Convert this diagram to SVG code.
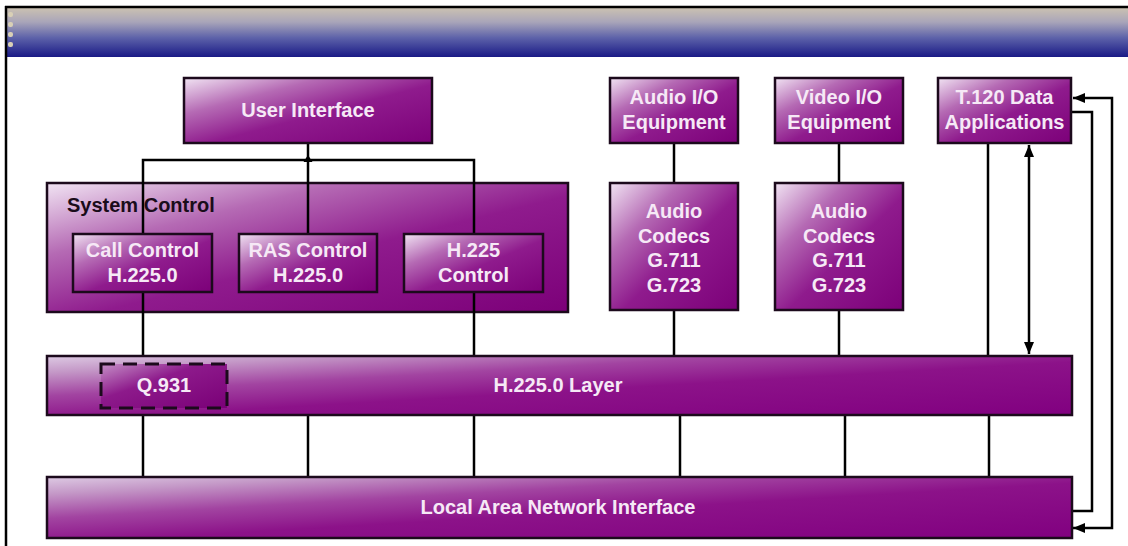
<svg xmlns="http://www.w3.org/2000/svg" width="1128" height="546" viewBox="0 0 1128 546">
  <defs>
    <linearGradient id="header" x1="0" y1="0" x2="0" y2="1">
      <stop offset="0" stop-color="#cdc3b1"/>
      <stop offset="0.3" stop-color="#a9a5b9"/>
      <stop offset="0.62" stop-color="#5c61a9"/>
      <stop offset="1" stop-color="#1a1a86"/>
    </linearGradient>
    <!-- glossy purple for compact boxes: light top-left corner -->
    <linearGradient id="boxFill" x1="0" y1="0" x2="1" y2="1">
      <stop offset="0" stop-color="#f1e4f3"/>
      <stop offset="0.28" stop-color="#b56ab4"/>
      <stop offset="0.55" stop-color="#8f1b8d"/>
      <stop offset="1" stop-color="#7c0079"/>
    </linearGradient>
    <!-- wide layer bars: diagonal in box space, so the light band runs along the top-left -->
    <linearGradient id="barFill" x1="0" y1="0" x2="1" y2="1">
      <stop offset="0" stop-color="#ddcae3"/>
      <stop offset="0.14" stop-color="#c498c7"/>
      <stop offset="0.34" stop-color="#a244a1"/>
      <stop offset="0.55" stop-color="#8c1289"/>
      <stop offset="1" stop-color="#810080"/>
    </linearGradient>
    <linearGradient id="dashFill" x1="0" y1="0" x2="1" y2="1">
      <stop offset="0" stop-color="#c58fc7"/>
      <stop offset="0.4" stop-color="#8d1a8b"/>
      <stop offset="1" stop-color="#7a0077"/>
    </linearGradient>
    <marker id="arrow" viewBox="0 0 12 10" refX="12" refY="5" markerWidth="12" markerHeight="10" markerUnits="userSpaceOnUse" orient="auto-start-reverse">
      <path d="M0,0 L12,5 L0,10 Z" fill="#000"/>
    </marker>
    <style>
      .box { fill: url(#boxFill); stroke: #1c0a1c; stroke-width: 2.5; }
      .bar { fill: url(#barFill); stroke: #1c0a1c; stroke-width: 2.5; }
      .lbl { font-family: "Liberation Sans", Arial, sans-serif; font-weight: bold; font-size: 20px; fill: #f6e9f6; text-anchor: middle; }
      .dark { fill: #1a0c1a; text-anchor: start; }
      .wire { fill: none; stroke: #000; stroke-width: 2.5; }
    </style>
  </defs>

  <rect width="1128" height="546" fill="#ffffff"/>

  <!-- window title strip and frame -->
  <rect x="6" y="7" width="1122" height="50" fill="url(#header)"/>
  <g fill="#d9d0b6">
    <rect x="8" y="12" width="5" height="5" rx="2"/>
    <rect x="8" y="22" width="5" height="5" rx="2"/>
    <rect x="8" y="32" width="5" height="5" rx="2"/>
    <rect x="8" y="42" width="5" height="5" rx="2"/>
  </g>
  <line x1="5" y1="7" x2="1128" y2="7" stroke="#000" stroke-width="2.5"/>
  <line x1="6" y1="6" x2="6" y2="546" stroke="#000" stroke-width="2.5"/>

  <!-- system control container sits beneath its wires -->
  <g id="system-control">
    <rect class="box" x="47" y="183" width="521" height="129"/>
    <text class="lbl dark" x="67" y="212">System Control</text>
  </g>

  <g id="connectors">
    <!-- user interface fan-out -->
    <line class="wire" x1="308" y1="143" x2="308" y2="234"/>
    <polyline class="wire" points="143,234 143,160 474,160 474,234"/>
    <polygon points="303.5,162 312.5,162 308,155" fill="#000"/>
    <!-- system control down to H.225.0 layer -->
    <line class="wire" x1="143" y1="292" x2="143" y2="356"/>
    <line class="wire" x1="474" y1="292" x2="474" y2="356"/>
    <!-- media paths -->
    <line class="wire" x1="674" y1="143" x2="674" y2="183"/>
    <line class="wire" x1="674" y1="310" x2="674" y2="356"/>
    <line class="wire" x1="839" y1="143" x2="839" y2="183"/>
    <line class="wire" x1="839" y1="310" x2="839" y2="356"/>
    <!-- data path -->
    <line class="wire" x1="988" y1="143" x2="988" y2="356"/>
    <line class="wire" x1="1029" y1="145" x2="1029" y2="354" marker-start="url(#arrow)" marker-end="url(#arrow)"/>
    <polyline class="wire" points="1072,112 1092,112 1092,511 1072,511"/>
    <polyline class="wire" points="1073,98 1112,98 1112,528 1073,528" marker-start="url(#arrow)" marker-end="url(#arrow)"/>
    <!-- H.225.0 layer to LAN interface -->
    <line class="wire" x1="143" y1="415" x2="143" y2="477"/>
    <line class="wire" x1="308" y1="415" x2="308" y2="477"/>
    <line class="wire" x1="474" y1="415" x2="474" y2="477"/>
    <line class="wire" x1="680" y1="415" x2="680" y2="477"/>
    <line class="wire" x1="845" y1="415" x2="845" y2="477"/>
    <line class="wire" x1="989" y1="415" x2="989" y2="477"/>
  </g>

  <g id="user-interface">
    <rect class="box" x="184" y="78" width="248" height="65"/>
    <text class="lbl" x="308" y="117">User Interface</text>
  </g>

  <g id="call-control">
    <rect class="box" x="73" y="234" width="139" height="58"/>
    <text class="lbl" x="142.5" y="257">Call Control</text>
    <text class="lbl" x="142.5" y="282">H.225.0</text>
  </g>

  <g id="ras-control">
    <rect class="box" x="239" y="234" width="138" height="58"/>
    <text class="lbl" x="308" y="257">RAS Control</text>
    <text class="lbl" x="308" y="282">H.225.0</text>
  </g>

  <g id="h225-control">
    <rect class="box" x="404" y="234" width="139" height="58"/>
    <text class="lbl" x="473.5" y="257">H.225</text>
    <text class="lbl" x="473.5" y="282">Control</text>
  </g>

  <g id="audio-io">
    <rect class="box" x="610" y="78" width="128" height="65"/>
    <text class="lbl" x="674" y="104">Audio I/O</text>
    <text class="lbl" x="674" y="129">Equipment</text>
  </g>

  <g id="video-io">
    <rect class="box" x="775" y="78" width="128" height="65"/>
    <text class="lbl" x="839" y="104">Video I/O</text>
    <text class="lbl" x="839" y="129">Equipment</text>
  </g>

  <g id="t120-data">
    <rect class="box" x="938" y="78" width="133" height="65"/>
    <text class="lbl" x="1004.5" y="104">T.120 Data</text>
    <text class="lbl" x="1004.5" y="129">Applications</text>
  </g>

  <g id="audio-codecs-1">
    <rect class="box" x="610" y="183" width="128" height="127"/>
    <text class="lbl" x="674" y="218">Audio</text>
    <text class="lbl" x="674" y="243">Codecs</text>
    <text class="lbl" x="674" y="267">G.711</text>
    <text class="lbl" x="674" y="292">G.723</text>
  </g>

  <g id="audio-codecs-2">
    <rect class="box" x="775" y="183" width="128" height="127"/>
    <text class="lbl" x="839" y="218">Audio</text>
    <text class="lbl" x="839" y="243">Codecs</text>
    <text class="lbl" x="839" y="267">G.711</text>
    <text class="lbl" x="839" y="292">G.723</text>
  </g>

  <g id="h2250-layer">
    <rect class="bar" x="47" y="356" width="1025" height="59"/>
    <text class="lbl" x="558" y="392">H.225.0 Layer</text>
  </g>

  <g id="q931">
    <rect x="101" y="364" width="126" height="44" fill="url(#dashFill)" stroke="#1c0a1c" stroke-width="3" stroke-dasharray="14 8"/>
    <text class="lbl" x="164" y="392">Q.931</text>
  </g>

  <g id="lan-interface">
    <rect class="bar" x="47" y="477" width="1025" height="61"/>
    <text class="lbl" x="558" y="514">Local Area Network Interface</text>
  </g>
</svg>
